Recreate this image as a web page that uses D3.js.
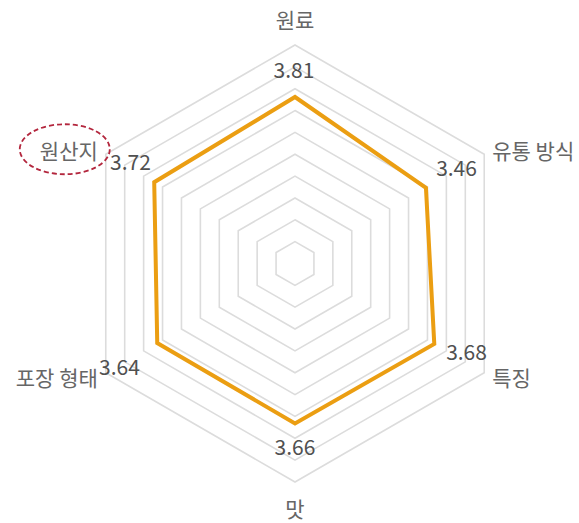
<!DOCTYPE html>
<html>
<head>
<meta charset="utf-8">
<script src="https://cdn.jsdelivr.net/npm/d3@7"></script>
<style>
  html, body { margin: 0; padding: 0; background: #fff; }
  svg { display: block; }
</style>
</head>
<body>
<svg id="chart" width="579" height="523"></svg>
<script>
// Radar axes, clockwise from the top
const axes = ["원료", "유통 방식", "특징", "맛", "포장 형태", "원산지"];
const scores = [3.81, 3.46, 3.68, 3.66, 3.64, 3.72];
const gridLevels = [0.5, 1, 1.5, 2, 2.5, 3, 3.5, 4, 4.5, 5];
const maxScore = 5;
const highlighted = "원산지";

const svg = d3.select("#chart");
const cx = 295, cy = 263.5, R = 218.5;
const font = "'Noto Sans CJK KR', 'Noto Sans', sans-serif";

const r = d3.scaleLinear().domain([0, maxScore]).range([0, R]);
const angle = d3.scaleLinear().domain([0, axes.length]).range([0, 2 * Math.PI]);

const g = svg.append("g").attr("transform", `translate(${cx},${cy})`);

const radial = d3.lineRadial()
  .angle((d, i) => angle(i))
  .radius(d => r(d))
  .curve(d3.curveLinearClosed);

// concentric hexagonal grid
g.selectAll("path.grid")
  .data(gridLevels)
  .join("path")
  .attr("class", "grid")
  .attr("d", lvl => radial(axes.map(() => lvl)))
  .attr("fill", "none")
  .attr("stroke", "#dcdcdc")
  .attr("stroke-width", 1.6);

// score polygon
g.append("path")
  .attr("d", radial(scores))
  .attr("fill", "none")
  .attr("stroke", "#eb9e12")
  .attr("stroke-width", 4)
  .attr("stroke-linejoin", "miter");

const pt = (i, rad) => {
  const a = angle(i);
  return [rad * Math.sin(a), -rad * Math.cos(a)];
};

// value labels sit on a ring just inside the outer hexagon, nudged off the grid lines
const valueNudge = [[-1, -5], [-3, -2], [7, -8], [0, -8], [-11, 7], [0, -8]];
g.selectAll("text.val")
  .data(scores)
  .join("text")
  .attr("class", "val")
  .attr("x", (d, i) => pt(i, 190)[0] + valueNudge[i][0])
  .attr("y", (d, i) => pt(i, 190)[1] + valueNudge[i][1])
  .attr("text-anchor", "middle")
  .attr("dominant-baseline", "central")
  .attr("font-family", font)
  .attr("font-size", 21)
  .attr("fill", "#505050")
  .text(d => d.toFixed(2));

// axis labels
const labelPos = (i) => {
  const [x, y] = pt(i, R);
  const s = Math.sin(angle(i));
  if (Math.abs(s) < 0.01) {
    return { x, y: y < 0 ? y - 26 : y + 26, anchor: "middle" };
  }
  return { x: x + (s > 0 ? 8 : -8), y: y - (y < 0 ? 4 : -4), anchor: s > 0 ? "start" : "end" };
};

g.selectAll("text.axis")
  .data(axes)
  .join("text")
  .attr("class", "axis")
  .attr("x", (d, i) => labelPos(i).x)
  .attr("y", (d, i) => labelPos(i).y)
  .attr("text-anchor", (d, i) => labelPos(i).anchor)
  .attr("dominant-baseline", "central")
  .attr("font-family", font)
  .attr("font-size", 21)
  .attr("fill", "#666")
  .text(d => d);

// dashed emphasis ellipse
const hi = axes.indexOf(highlighted);
const hp = labelPos(hi);
g.append("ellipse")
  .attr("cx", hp.x - 33)
  .attr("cy", hp.y - 1)
  .attr("rx", 45)
  .attr("ry", 25)
  .attr("fill", "none")
  .attr("stroke", "#b3263d")
  .attr("stroke-width", 1.8)
  .attr("stroke-dasharray", "5,3");
</script>
</body>
</html>
